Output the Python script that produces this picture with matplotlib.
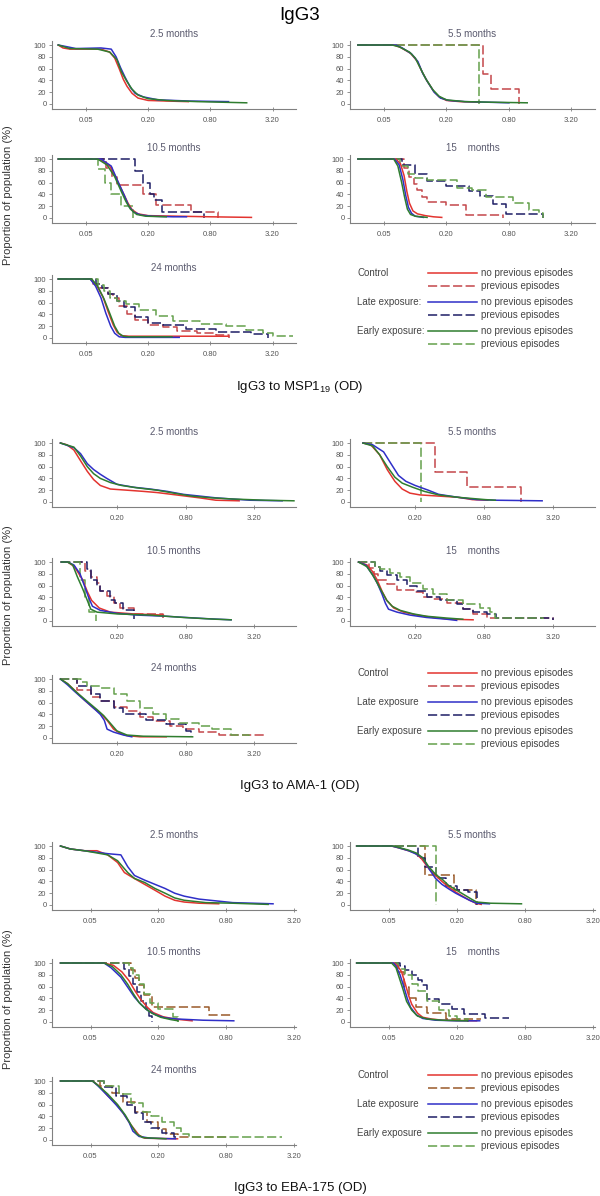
import matplotlib.pyplot as plt
from matplotlib.lines import Line2D

plt.rcParams['font.family'] = ['Liberation Sans', 'DejaVu Sans']
plt.rcParams['mathtext.fontset'] = 'custom'
plt.rcParams['mathtext.rm'] = 'Liberation Sans'

# --- data: each panel holds 6 curves as (x, y) in this order:
# control no prev, control prev, late no prev, late prev, early no prev, early prev
# solid curves are drawn as lines, dashed (previous episodes) as post-steps

# IgG3 to MSP1-19
msp_m2_5 = [
    ([0.027, 0.03, 0.035, 0.07, 0.085, 0.095, 0.105, 0.115, 0.125, 0.14, 0.16, 0.2, 0.3, 0.49],
     [100, 95, 93, 93, 88, 78, 60, 42, 30, 18, 10, 6, 5, 4]),
    None,
    ([0.027, 0.033, 0.04, 0.07, 0.088, 0.098, 0.108, 0.12, 0.135, 0.15, 0.18, 0.25, 0.5, 1.2],
     [100, 97, 94, 95, 93, 80, 62, 45, 28, 18, 12, 7, 5, 4]),
    None,
    ([0.027, 0.035, 0.065, 0.085, 0.1, 0.11, 0.125, 0.14, 0.16, 0.2, 0.3, 0.6, 1.8],
     [100, 94, 93, 88, 75, 55, 38, 25, 15, 9, 6, 4, 2]),
    None,
]
msp_m5_5 = [
    ([0.028, 0.062, 0.072, 0.09, 0.104, 0.116, 0.129, 0.15, 0.17, 0.2, 0.27, 0.42],
     [100, 100, 96, 86, 73, 55, 40, 22, 12, 6, 4, 3]),
    ([0.028, 0.45, 0.54, 0.99], [100, 50, 25, 0]),
    ([0.028, 0.065, 0.075, 0.092, 0.106, 0.118, 0.131, 0.152, 0.175, 0.21, 0.3, 0.5, 0.8],
     [100, 100, 95, 85, 72, 52, 38, 20, 10, 6, 4, 3, 2]),
    None,
    ([0.028, 0.06, 0.07, 0.088, 0.1, 0.114, 0.127, 0.148, 0.17, 0.2, 0.3, 0.55, 1.2],
     [100, 100, 97, 88, 78, 58, 42, 24, 13, 7, 4, 3, 2]),
    ([0.028, 0.415], [100, 0]),
]
msp_m10_5 = [
    ([0.027, 0.068, 0.085, 0.1, 0.115, 0.128, 0.14, 0.16, 0.2, 0.4, 0.8, 2.0],
     [100, 100, 88, 65, 42, 25, 14, 7, 4, 3, 2, 1]),
    ([0.027, 0.078, 0.09, 0.1, 0.18, 0.24, 0.52, 0.95], [100, 85, 70, 56, 40, 22, 10, 0]),
    ([0.027, 0.07, 0.088, 0.102, 0.118, 0.13, 0.145, 0.17, 0.22, 0.35, 0.47],
     [100, 100, 88, 62, 38, 20, 10, 5, 3, 2, 2]),
    ([0.027, 0.148, 0.18, 0.21, 0.23, 0.27, 0.7], [100, 80, 60, 40, 30, 10, 0]),
    ([0.027, 0.065, 0.08, 0.095, 0.11, 0.122, 0.135, 0.155, 0.19, 0.3],
     [100, 100, 90, 70, 45, 28, 15, 6, 3, 2]),
    ([0.027, 0.066, 0.076, 0.088, 0.11, 0.143], [100, 83, 60, 40, 20, 0]),
]
msp_m15 = [
    ([0.028, 0.065, 0.072, 0.078, 0.083, 0.088, 0.095, 0.105, 0.125, 0.15, 0.18],
     [100, 100, 92, 72, 45, 25, 12, 7, 4, 2, 1]),
    ([0.028, 0.078, 0.088, 0.097, 0.105, 0.116, 0.13, 0.2, 0.31, 0.7],
     [100, 85, 70, 57, 47, 35, 27, 22, 5, 0]),
    ([0.028, 0.063, 0.07, 0.076, 0.081, 0.086, 0.092, 0.1, 0.12],
     [100, 100, 90, 65, 38, 18, 8, 3, 1]),
    ([0.028, 0.075, 0.1, 0.13, 0.2, 0.33, 0.42, 0.56, 0.75, 1.7],
     [100, 90, 75, 62, 55, 45, 38, 23, 6, 0]),
    ([0.028, 0.062, 0.068, 0.074, 0.079, 0.084, 0.09, 0.1, 0.13],
     [100, 100, 88, 60, 35, 15, 6, 3, 1]),
    ([0.028, 0.072, 0.085, 0.1, 0.13, 0.25, 0.35, 0.48, 0.87, 1.25, 1.56, 1.7],
     [100, 88, 75, 68, 64, 50, 47, 36, 25, 14, 8, 0]),
]
msp_m24 = [
    ([0.027, 0.055, 0.063, 0.073, 0.082, 0.092, 0.1, 0.11, 0.13, 0.3, 1.2],
     [100, 100, 90, 70, 45, 22, 10, 4, 3, 3, 3]),
    ([0.027, 0.058, 0.068, 0.082, 0.092, 0.105, 0.125, 0.15, 0.2, 0.28, 0.38, 0.6, 0.9, 1.2],
     [100, 92, 85, 75, 68, 55, 40, 30, 22, 18, 12, 8, 5, 0]),
    ([0.027, 0.055, 0.062, 0.07, 0.078, 0.087, 0.095, 0.105, 0.12, 0.2, 0.4],
     [100, 100, 88, 68, 42, 20, 8, 2, 1, 1, 1]),
    ([0.027, 0.062, 0.072, 0.082, 0.1, 0.117, 0.15, 0.2, 0.28, 0.47, 0.9, 2.0, 2.9],
     [100, 92, 85, 75, 62, 52, 35, 25, 22, 16, 10, 6, 0]),
    ([0.027, 0.057, 0.065, 0.075, 0.085, 0.095, 0.104, 0.115, 0.13, 0.34],
     [100, 100, 88, 66, 42, 20, 8, 3, 2, 2]),
    ([0.027, 0.065, 0.075, 0.085, 0.1, 0.123, 0.165, 0.24, 0.35, 0.63, 1.13, 1.78, 2.6, 3.2, 5.0],
     [100, 90, 80, 68, 62, 57, 48, 37, 29, 24, 20, 14, 8, 4, 4]),
]

# IgG3 to AMA-1
ama_m2_5 = [
    ([0.064, 0.073, 0.084, 0.096, 0.11, 0.125, 0.143, 0.175, 0.245, 0.34, 0.45, 0.66, 1.06, 1.47, 2.35],
     [100, 97, 88, 70, 52, 38, 28, 22, 20, 18, 16, 12, 7, 3, 2]),
    None,
    ([0.064, 0.084, 0.096, 0.11, 0.125, 0.143, 0.163, 0.2, 0.28, 0.39, 0.55, 0.76, 1.06, 1.47, 2.07, 2.9, 5.6],
     [100, 92, 82, 65, 55, 47, 40, 30, 25, 22, 18, 13, 10, 7, 5, 3, 2]),
    None,
    ([0.064, 0.084, 0.096, 0.11, 0.125, 0.143, 0.175, 0.22, 0.3, 0.45, 0.63, 0.9, 1.35, 2.07, 4.0, 7.1],
     [100, 93, 78, 60, 48, 40, 33, 28, 24, 20, 15, 10, 7, 5, 3, 2]),
    None,
]
ama_m5_5 = [
    ([0.07, 0.082, 0.098, 0.114, 0.133, 0.154, 0.18, 0.22, 0.32, 0.47, 0.63, 0.86],
     [100, 97, 80, 55, 35, 22, 15, 12, 10, 8, 4, 3]),
    ([0.07, 0.3, 0.57, 1.68], [100, 50, 25, 0]),
    ([0.07, 0.085, 0.106, 0.123, 0.143, 0.166, 0.2, 0.26, 0.32, 0.47, 0.69, 1.0, 2.56],
     [100, 97, 85, 65, 45, 35, 28, 20, 13, 8, 4, 3, 2]),
    None,
    ([0.07, 0.085, 0.098, 0.114, 0.133, 0.154, 0.19, 0.24, 0.32, 0.47, 0.82, 1.0],
     [100, 95, 80, 60, 42, 32, 25, 18, 12, 8, 4, 3]),
    ([0.07, 0.225], [100, 0]),
]
ama_m10_5 = [
    ([0.065, 0.074, 0.085, 0.1, 0.11, 0.12, 0.14, 0.175, 0.28, 0.51],
     [100, 100, 92, 70, 50, 35, 22, 15, 12, 10]),
    ([0.065, 0.106, 0.118, 0.134, 0.143, 0.164, 0.187, 0.213, 0.28, 0.51],
     [100, 85, 75, 65, 50, 42, 30, 22, 12, 5]),
    ([0.065, 0.074, 0.084, 0.095, 0.106, 0.113, 0.122, 0.143, 0.2, 0.3, 0.54, 0.8, 1.2, 2.0],
     [100, 100, 95, 80, 55, 40, 25, 18, 13, 10, 8, 6, 4, 2]),
    ([0.065, 0.11, 0.118, 0.134, 0.143, 0.175, 0.193, 0.228, 0.28],
     [100, 88, 70, 60, 50, 35, 30, 18, 3]),
    ([0.065, 0.074, 0.082, 0.09, 0.1, 0.11, 0.118, 0.134, 0.2, 0.39, 0.76, 1.46, 2.0],
     [100, 100, 95, 75, 55, 35, 20, 15, 12, 10, 6, 3, 2]),
    ([0.065, 0.095, 0.105, 0.113, 0.13], [100, 70, 40, 15, 0]),
]
ama_m15 = [
    ([0.064, 0.076, 0.084, 0.093, 0.103, 0.113, 0.13, 0.158, 0.207, 0.287, 0.4, 0.64],
     [100, 95, 85, 70, 50, 35, 22, 15, 10, 6, 3, 2]),
    ([0.064, 0.079, 0.087, 0.095, 0.113, 0.139, 0.2, 0.236, 0.287, 0.376, 0.52, 0.64, 0.84, 3.2],
     [100, 90, 80, 70, 63, 53, 49, 40, 38, 30, 20, 12, 5, 2]),
    ([0.064, 0.074, 0.084, 0.093, 0.103, 0.11, 0.117, 0.139, 0.18, 0.25, 0.376, 0.46],
     [100, 95, 80, 65, 45, 30, 20, 15, 10, 6, 3, 1]),
    ([0.064, 0.09, 0.099, 0.113, 0.139, 0.169, 0.207, 0.252, 0.33, 0.46, 0.52, 0.64, 0.84, 1.02, 3.2],
     [100, 92, 85, 78, 70, 60, 50, 40, 35, 28, 20, 15, 12, 5, 2]),
    ([0.064, 0.076, 0.087, 0.099, 0.113, 0.126, 0.148, 0.193, 0.252, 0.376, 0.52],
     [100, 92, 75, 55, 35, 25, 18, 12, 8, 5, 3]),
    ([0.064, 0.09, 0.099, 0.121, 0.148, 0.181, 0.236, 0.287, 0.376, 0.52, 0.73, 0.9, 0.99, 2.6],
     [100, 92, 88, 82, 75, 65, 55, 45, 35, 28, 22, 15, 5, 3]),
]
ama_m24 = [
    ([0.064, 0.074, 0.084, 0.103, 0.126, 0.143, 0.164, 0.187, 0.213, 0.245, 0.318, 0.54],
     [100, 92, 82, 65, 50, 42, 30, 15, 8, 4, 2, 2]),
    ([0.064, 0.09, 0.118, 0.143, 0.187, 0.245, 0.318, 0.41, 0.58, 0.76, 1.05, 1.56, 3.9],
     [100, 82, 70, 62, 52, 45, 35, 28, 20, 15, 10, 5, 5]),
    ([0.064, 0.074, 0.084, 0.096, 0.11, 0.126, 0.143, 0.155, 0.164, 0.187, 0.228, 0.27],
     [100, 90, 80, 70, 60, 50, 40, 30, 15, 10, 5, 2]),
    ([0.064, 0.09, 0.118, 0.143, 0.187, 0.228, 0.36, 0.54, 0.81, 0.89],
     [100, 88, 75, 62, 50, 40, 31, 23, 11, 3]),
    ([0.064, 0.074, 0.088, 0.11, 0.134, 0.153, 0.175, 0.2, 0.245, 0.34, 0.92],
     [100, 92, 78, 62, 48, 38, 25, 12, 5, 3, 2]),
    ([0.064, 0.096, 0.11, 0.143, 0.187, 0.245, 0.318, 0.41, 0.54, 0.7, 1.05, 1.37, 2.0, 2.85],
     [100, 95, 88, 85, 75, 62, 50, 40, 32, 25, 20, 15, 5, 3]),
]

# IgG3 to EBA-175
eba_m2_5 = [
    ([0.027, 0.033, 0.044, 0.057, 0.071, 0.087, 0.1, 0.115, 0.142, 0.187, 0.23, 0.28, 0.34, 0.46, 0.69],
     [100, 95, 92, 92, 85, 72, 55, 48, 38, 25, 15, 8, 5, 3, 2]),
    None,
    ([0.027, 0.033, 0.044, 0.071, 0.093, 0.107, 0.123, 0.152, 0.187, 0.23, 0.28, 0.34, 0.46, 0.65, 0.92, 1.4, 2.1],
     [100, 95, 92, 87, 85, 65, 50, 42, 35, 28, 20, 15, 10, 7, 4, 3, 2]),
    None,
    ([0.027, 0.033, 0.044, 0.071, 0.087, 0.107, 0.123, 0.152, 0.187, 0.23, 0.28, 0.34, 0.53, 0.92, 1.9],
     [100, 95, 92, 85, 75, 55, 45, 38, 28, 20, 12, 8, 4, 3, 1]),
    None,
]
eba_m5_5 = [
    ([0.026, 0.053, 0.061, 0.075, 0.086, 0.098, 0.113, 0.13, 0.148, 0.171, 0.196, 0.225, 0.26, 0.296, 0.33],
     [100, 100, 97, 92, 88, 78, 62, 50, 40, 30, 22, 15, 8, 3, 1]),
    ([0.026, 0.105, 0.19, 0.296], [100, 50, 25, 0]),
    ([0.026, 0.053, 0.061, 0.075, 0.086, 0.1, 0.115, 0.13, 0.148, 0.171, 0.196, 0.225, 0.26, 0.3, 0.39],
     [100, 100, 97, 92, 87, 80, 60, 45, 35, 27, 20, 14, 8, 3, 2]),
    ([0.026, 0.09, 0.105, 0.13, 0.16, 0.2, 0.25, 0.3], [100, 80, 65, 45, 33, 25, 22, 0]),
    ([0.026, 0.055, 0.063, 0.075, 0.088, 0.1, 0.113, 0.13, 0.15, 0.17, 0.2, 0.23, 0.27, 0.3, 0.4, 0.75],
     [100, 100, 97, 93, 88, 80, 65, 52, 43, 33, 25, 18, 10, 5, 3, 2]),
    ([0.026, 0.13], [100, 0]),
]
eba_m10_5 = [
    ([0.027, 0.066, 0.08, 0.095, 0.11, 0.125, 0.14, 0.16, 0.18, 0.22, 0.28, 0.4],
     [100, 100, 96, 85, 70, 52, 38, 25, 16, 9, 5, 2]),
    ([0.027, 0.115, 0.125, 0.135, 0.15, 0.175, 0.56, 0.9], [100, 88, 75, 62, 45, 25, 12, 12]),
    ([0.027, 0.066, 0.076, 0.093, 0.107, 0.123, 0.14, 0.16, 0.19, 0.23, 0.3, 0.5, 0.94],
     [100, 100, 92, 76, 59, 42, 30, 20, 12, 7, 5, 3, 2]),
    ([0.027, 0.1, 0.11, 0.12, 0.13, 0.14, 0.155, 0.165, 0.177], [100, 90, 78, 65, 50, 35, 22, 10, 0]),
    ([0.027, 0.066, 0.078, 0.093, 0.107, 0.12, 0.135, 0.155, 0.175, 0.21, 0.26, 0.3],
     [100, 100, 94, 80, 64, 48, 33, 22, 15, 8, 4, 2]),
    ([0.027, 0.11, 0.12, 0.135, 0.15, 0.17, 0.2, 0.27, 0.3], [100, 92, 80, 65, 48, 32, 22, 8, 0]),
]
eba_m15 = [
    ([0.026, 0.056, 0.06, 0.065, 0.07, 0.075, 0.08, 0.09, 0.1, 0.12, 0.15, 0.3],
     [100, 100, 95, 85, 65, 45, 30, 15, 8, 5, 3, 2]),
    ([0.026, 0.06, 0.068, 0.075, 0.087, 0.11, 0.16, 0.33], [100, 85, 60, 40, 25, 16, 5, 5]),
    ([0.026, 0.055, 0.058, 0.063, 0.068, 0.073, 0.078, 0.088, 0.1, 0.13, 0.2, 0.32],
     [100, 100, 95, 80, 60, 40, 25, 12, 6, 3, 2, 2]),
    ([0.026, 0.063, 0.07, 0.08, 0.09, 0.098, 0.11, 0.14, 0.18, 0.23, 0.36, 0.58],
     [100, 95, 88, 80, 72, 63, 39, 30, 22, 13, 6, 6]),
    ([0.026, 0.053, 0.058, 0.062, 0.067, 0.072, 0.08, 0.09, 0.11, 0.15, 0.25],
     [100, 100, 92, 75, 55, 35, 20, 10, 5, 3, 2]),
    ([0.026, 0.06, 0.07, 0.08, 0.09, 0.11, 0.14, 0.17, 0.2, 0.25], [100, 90, 80, 65, 52, 35, 20, 10, 5, 0]),
]
eba_m24 = [
    ([0.027, 0.052, 0.061, 0.071, 0.084, 0.098, 0.115, 0.135, 0.152, 0.297],
     [100, 100, 90, 75, 62, 45, 25, 8, 3, 2]),
    ([0.027, 0.061, 0.077, 0.098, 0.124, 0.158, 0.2, 0.234, 0.297, 0.83],
     [100, 92, 80, 65, 48, 30, 18, 10, 5, 5]),
    ([0.027, 0.052, 0.058, 0.071, 0.084, 0.098, 0.11, 0.119, 0.135, 0.171, 0.285],
     [100, 100, 92, 75, 60, 45, 30, 15, 6, 3, 2]),
    ([0.027, 0.066, 0.084, 0.106, 0.124, 0.146, 0.171, 0.216, 0.275, 0.3],
     [100, 90, 75, 60, 45, 30, 20, 12, 5, 5]),
    ([0.027, 0.052, 0.058, 0.071, 0.087, 0.102, 0.115, 0.129, 0.146, 0.234],
     [100, 100, 93, 78, 60, 42, 25, 10, 4, 2]),
    ([0.027, 0.066, 0.09, 0.115, 0.146, 0.171, 0.216, 0.275, 0.322, 0.376, 2.5],
     [100, 92, 78, 62, 48, 40, 30, 20, 10, 5, 5]),
]

panel_titles = ['2.5 months', '5.5 months', '10.5 months', '15    months', '24 months']
x_ticks = [0.05, 0.2, 0.8, 3.2]
x_tick_labels = ['0.05', '0.20', '0.80', '3.20']
y_ticks = [0, 20, 40, 60, 80, 100]
block_xlabels = ['IgG3 to MSP1$_{\\mathregular{19}}$ (OD)', 'IgG3 to AMA-1 (OD)', 'IgG3 to EBA-175 (OD)']
legend_groups = [['Control', 'Late exposure:', 'Early exposure:'],
                 ['Control', 'Late exposure', 'Early exposure'],
                 ['Control', 'Late exposure', 'Early exposure']]
legend_kinds = ['no previous episodes', 'previous episodes']

colors = ['#e3342f', '#c4474a', '#2f2fc8', '#1e1e66', '#2f7d2f', '#64a04c']
eba_ctrl_prev_color = '#9a5a2a'

# --- layout (pixel positions in a 600 x 1196 canvas) ---
W, H = 600, 1196
block_rows = [[45, 159, 279], [443, 562, 679], [846, 963, 1081]]
block_xlims = [(0.0235, 5.4), (0.054, 7.4), (0.0227, 3.36)]
block_xlabel_y = [387, 786, 1188]
block_ylabel_y = [195, 595, 999]
col_x = [(52, 296), (350, 595)]
blocks = [[msp_m2_5, msp_m5_5, msp_m10_5, msp_m15, msp_m24],
          [ama_m2_5, ama_m5_5, ama_m10_5, ama_m15, ama_m24],
          [eba_m2_5, eba_m5_5, eba_m10_5, eba_m15, eba_m24]]

fig = plt.figure(figsize=(W / 100, H / 100), dpi=100)
axis_grey = '#808080'
text_grey = '#555555'


def make_panel(x0, x1, y100, xlim, title):
    top, bottom = y100 - 4, y100 + 64
    ax = fig.add_axes([x0 / W, 1 - bottom / H, (x1 - x0) / W, (bottom - top) / H])
    ax.set_xscale('log', base=2)
    # ticks first: set_xticks would widen the limits otherwise
    ticks = [t for t in x_ticks if xlim[0] <= t <= xlim[1]]
    labels = [l for t, l in zip(x_ticks, x_tick_labels) if xlim[0] <= t <= xlim[1]]
    ax.set_xticks(ticks)
    ax.set_xticklabels(labels)
    ax.minorticks_off()
    ax.set_xlim(*xlim)
    ax.set_yticks(y_ticks)
    ax.set_ylim(-8.5, 106.8)
    for s in ['top', 'right']:
        ax.spines[s].set_visible(False)
    for s in ['left', 'bottom']:
        ax.spines[s].set_color(axis_grey)
        ax.spines[s].set_linewidth(0.8)
    ax.tick_params(axis='x', direction='inout', length=3, width=0.6, color=axis_grey,
                   labelsize=5.5, labelcolor=text_grey, pad=4)
    ax.tick_params(axis='y', direction='out', length=2.5, width=0.6, color=axis_grey,
                   labelsize=5.5, labelcolor=text_grey, pad=1.5)
    ax.patch.set_alpha(0)
    ax.set_title(title, fontsize=7, color='#5a5a6e', pad=3)
    return ax


for b, panels in enumerate(blocks):
    rows = block_rows[b]
    positions = [(0, 0), (1, 0), (0, 1), (1, 1), (0, 2)]
    for p, curves in enumerate(panels):
        c, r = positions[p]
        ax = make_panel(col_x[c][0], col_x[c][1], rows[r], block_xlims[b], panel_titles[p])
        for k, cv in enumerate(curves):
            if cv is None or k % 2 == 0:
                continue
            xs, ys = cv
            col = eba_ctrl_prev_color if (b == 2 and k == 1) else colors[k]
            ax.step(xs, ys, where='post', color=col, lw=1.1, dashes=(6, 2.2))
        for k, cv in enumerate(curves):
            if cv is None or k % 2 == 1:
                continue
            xs, ys = cv
            ax.plot(xs, ys, color=colors[k], lw=1.1)

# overlay for titles and legends
ov = fig.add_axes([0, 0, 1, 1])
ov.set_xlim(0, W)
ov.set_ylim(H, 0)
ov.axis('off')

ov.text(300, 15, 'IgG3', ha='center', va='center', fontsize=13.5, color='black')
for b in range(3):
    ov.text(300, block_xlabel_y[b], block_xlabels[b], ha='center', va='center', fontsize=9.5, color='#111111')
    ov.text(8, block_ylabel_y[b], 'Proportion of population (%)', rotation=90,
            ha='center', va='center', fontsize=8, color='#333333')
    y0 = block_rows[b][2] - 6
    offsets = [0, 13, 29, 42, 58, 71]
    for k in range(6):
        yy = y0 + offsets[k]
        col = eba_ctrl_prev_color if (b == 2 and k == 1) else colors[k]
        line = Line2D([428, 477], [yy, yy], color=col, lw=1.1)
        if k % 2 == 1:
            line.set_dashes((6, 2.2))
        ov.add_line(line)
        ov.text(481, yy, legend_kinds[k % 2], ha='left', va='center', fontsize=7, color='#444444')
        if k % 2 == 0:
            ov.text(357, yy, legend_groups[b][k // 2], ha='left', va='center', fontsize=7, color='#444444')

fig.savefig('out.png', dpi=100)
